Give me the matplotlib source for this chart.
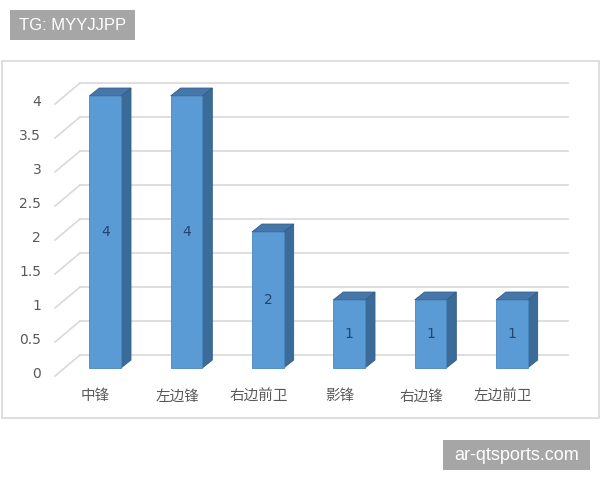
import numpy as np
import matplotlib
matplotlib.use('Agg')
from matplotlib import pyplot as plt
from matplotlib.patches import Polygon, Rectangle

plt.rcParams['font.family'] = ['Noto Sans CJK SC', 'DejaVu Sans']

# data
positions = ['中锋', '左边锋', '右边前卫', '影锋', '右边锋', '左边前卫']
counts = [4, 4, 2, 1, 1, 1]
yticks = [0, 0.5, 1, 1.5, 2, 2.5, 3, 3.5, 4]
ytick_labels = ['0', '0.5', '1', '1.5', '2', '2.5', '3', '3.5', '4']

# pseudo-3d offsets (data units, from the back wall)
floor_dx, floor_dy = -0.307, -0.309
front_dx, front_dy = -0.19, -0.19
back_dx, back_dy = -0.068, -0.074
half_w = 0.195

front_col = '#5b9bd5'
side_col = '#3b6b99'
top_col = '#4677aa'
grid_col = '#d9d9d9'
text_col = '#595959'
mark_col = '#a6a6a6'

W, H = 600, 480
fig = plt.figure(figsize=(6, 4.8), dpi=100)


def px_rect(x, y, w, h, **kw):
    # rectangle given in pixel coords from the top-left corner
    r = Rectangle((x / W, 1 - (y + h) / H), w / W, h / H,
                  transform=fig.transFigure, **kw)
    fig.patches.append(r)
    return r


# chart border
px_rect(2, 61, 597, 357, fill=False, edgecolor='#d9d9d9', lw=1.2)

ax = fig.add_axes([80 / W, 125 / H, 488 / W, 272 / H])
ax.set_xlim(-0.5, len(positions) - 0.5)
ax.set_ylim(0, 4)
ax.axis('off')

x0, x1 = ax.get_xlim()
for t, lab in zip(yticks, ytick_labels):
    # back wall gridline
    ax.plot([x0, x1], [t, t], color=grid_col, lw=1.2, clip_on=False, zorder=1)
    # side wall diagonal
    ax.plot([x0 + floor_dx, x0], [t + floor_dy, t], color=grid_col, lw=1.2,
            clip_on=False, zorder=1)
    ax.text(x0 + floor_dx - 0.17, t + floor_dy + 0.03, lab, ha='right', va='center',
            fontsize=10, color=text_col, family=['DejaVu Sans'])

for i, (name, v) in enumerate(zip(positions, counts)):
    fl, fr = i - half_w + front_dx, i + half_w + front_dx
    bl, br = i - half_w + back_dx, i + half_w + back_dx
    fb, ft = front_dy, v + front_dy
    bb, bt = back_dy, v + back_dy
    side = Polygon([(fr, fb), (br, bb), (br, bt), (fr, ft)], closed=True,
                   facecolor=side_col, edgecolor='#335d86', lw=0.6, zorder=3, clip_on=False)
    top = Polygon([(fl, ft), (fr, ft), (br, bt), (bl, bt)], closed=True,
                  facecolor=top_col, edgecolor='#335d86', lw=0.6, zorder=3, clip_on=False)
    front = Polygon([(fl, fb), (fr, fb), (fr, ft), (fl, ft)], closed=True,
                    facecolor=front_col, edgecolor='#4a86bf', lw=0.6, zorder=4, clip_on=False)
    for p in (side, top, front):
        ax.add_patch(p)
    ax.text(i + front_dx, v / 2 + front_dy, str(v), ha='center', va='center',
            fontsize=10, color='#24466e', zorder=5, family=['DejaVu Sans'])
    ax.text(i + floor_dx, floor_dy - 0.3, name, ha='center', va='center',
            fontsize=10.5, color=text_col)

# watermark boxes
px_rect(10, 10, 125, 30, facecolor=mark_col, edgecolor='none')
fig.text(72.5 / W, 1 - 25 / H, 'TG: MYYJJPP', ha='center', va='center', fontsize=12,
         color='white', family=['Liberation Sans', 'DejaVu Sans'])
px_rect(443, 440, 147, 30, facecolor=mark_col, edgecolor='none')
fig.text(516.5 / W, 1 - 455 / H, 'ar-qtsports.com', ha='center', va='center', fontsize=13,
         color='white', family=['Liberation Sans', 'DejaVu Sans'])

fig.savefig('out.png', dpi=100)
